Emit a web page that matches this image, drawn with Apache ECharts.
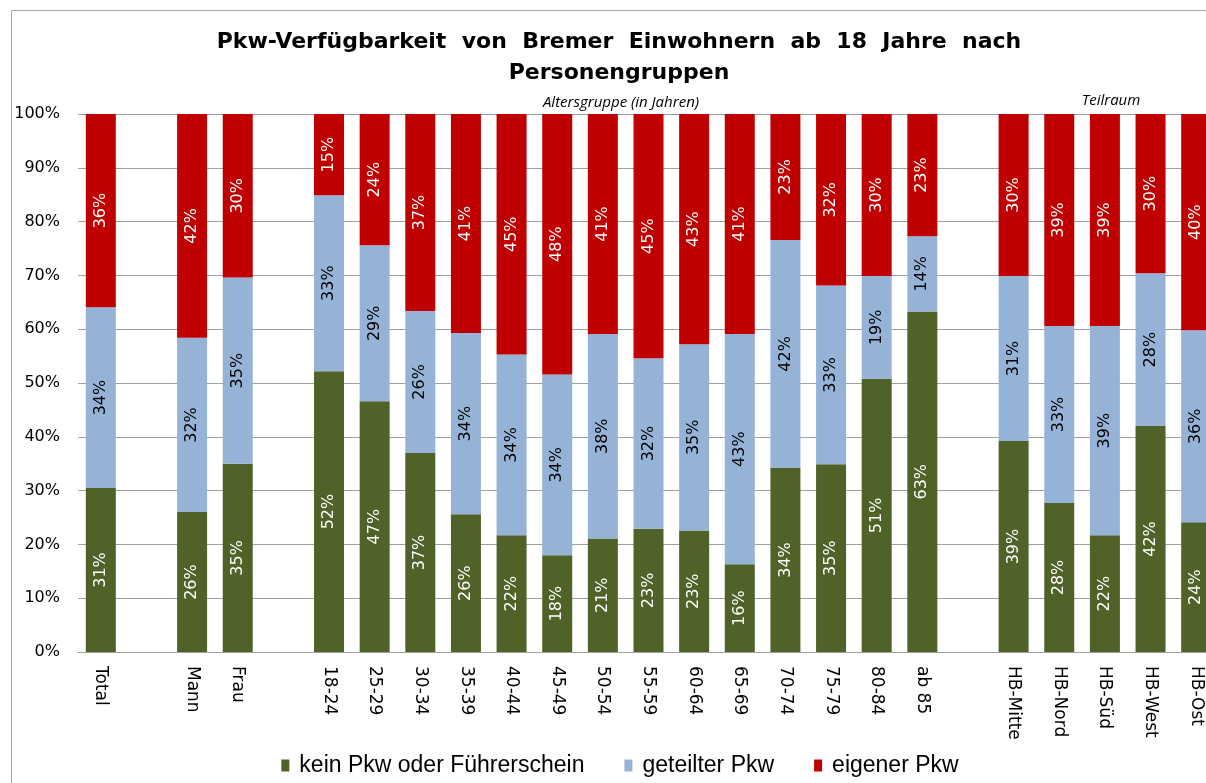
<!DOCTYPE html>
<html>
<head>
<meta charset="utf-8">
<script src="https://cdn.jsdelivr.net/npm/echarts@6/dist/echarts.min.js"></script>
<style>
  html, body { margin: 0; padding: 0; background: #fff; overflow: hidden; }
  #chart { width: 1240px; height: 783px; }
</style>
</head>
<body>
<div id="chart"></div>
<script>
// Kategorien (leere Einträge = Abstand zwischen den Gruppen)
const categories = ['Total', ' ', 'Mann', 'Frau', '  ',
  '18-24', '25-29', '30-34', '35-39', '40-44', '45-49', '50-54', '55-59',
  '60-64', '65-69', '70-74', '75-79', '80-84', 'ab 85', '   ',
  'HB-Mitte', 'HB-Nord', 'HB-Süd', 'HB-West', 'HB-Ost'];

// Anteile in %
const keinPkw = [30.5, null, 26.0, 35.0, null,
  52.2, 46.6, 37.0, 25.6, 21.7, 18.0, 21.1, 22.9, 22.6, 16.3, 34.2, 34.9, 50.8, 63.3, null,
  39.2, 27.7, 21.7, 42.0, 24.1];
const geteilterPkw = [33.6, null, 32.4, 34.6, null,
  32.7, 29.0, 26.4, 33.7, 33.6, 33.6, 38.0, 31.7, 34.6, 42.8, 42.4, 33.2, 19.1, 14.0, null,
  30.7, 32.9, 38.9, 28.4, 35.7];
const eigenerPkw = [35.9, null, 41.6, 30.4, null,
  15.1, 24.4, 36.6, 40.7, 44.7, 48.4, 40.9, 45.4, 42.8, 40.9, 23.4, 31.9, 30.1, 22.7, null,
  30.1, 39.4, 39.4, 29.6, 40.2];

const seriesNames = ['kein Pkw oder Führerschein', 'geteilter Pkw', 'eigener Pkw'];
const colors = ['#4F6228', '#95B3D7', '#C00000'];
const labelColors = ['#ffffff', '#000000', '#ffffff'];

const chart = echarts.init(document.getElementById('chart'));

function makeSeries(name, data, i) {
  return {
    name: name,
    type: 'bar',
    stack: 'total',
    data: data,
    barWidth: 30,
    itemStyle: { color: colors[i] },
    label: {
      show: true,
      position: 'inside',
      rotate: 90,
      color: labelColors[i],
      fontFamily: 'DejaVu Sans',
      fontSize: 16,
      formatter: p => Math.round(p.value) + '%'
    }
  };
}

const option = {
  animation: false,
  color: colors,
  title: {
    text: 'Pkw-Verfügbarkeit  von  Bremer  Einwohnern  ab  18  Jahre  nach\nPersonengruppen',
    left: 614,
    top: 22,
    textAlign: 'center',
    textStyle: {
      fontFamily: 'DejaVu Sans',
      fontWeight: 'bold',
      fontSize: 22,
      lineHeight: 31,
      color: '#000'
    }
  },
  grid: { left: 78, top: 114, width: 1141, height: 538 },
  xAxis: {
    type: 'category',
    data: categories,
    axisLine: { lineStyle: { color: '#A0A0A0', width: 1 } },
    axisTick: { show: false },
    axisLabel: {
      interval: 0,
      rotate: -90,
      margin: 14,
      color: '#000',
      fontFamily: 'DejaVu Sans',
      fontSize: 17
    }
  },
  yAxis: {
    type: 'value',
    min: 0,
    max: 100,
    interval: 10,
    axisLine: { show: false },
    axisTick: { show: false },
    splitLine: { lineStyle: { color: '#A0A0A0', width: 1 } },
    axisLabel: {
      margin: 18,
      color: '#000',
      fontFamily: 'DejaVu Sans',
      fontSize: 16,
      formatter: '{value}%'
    }
  },
  legend: {
    data: seriesNames,
    left: 'center',
    top: 749,
    icon: 'rect',
    itemWidth: 8,
    itemHeight: 12,
    itemGap: 40,
    textStyle: {
      fontFamily: 'Liberation Sans',
      fontSize: 23,
      padding: [0, 0, 0, 5],
      color: '#000'
    }
  },
  graphic: [
    {
      type: 'rect',
      z: -10,
      shape: { x: 11.5, y: 10.5, width: 1400, height: 900 },
      style: { fill: 'none', stroke: '#A6A6A6', lineWidth: 1 }
    },
    {
      type: 'text',
      style: {
        text: 'Altersgruppe (in Jahren)',
        x: 621, y: 103,
        align: 'center', verticalAlign: 'middle',
        font: 'italic 15px "Open Sans"',
        fill: '#000'
      }
    },
    {
      type: 'text',
      style: {
        text: 'Teilraum',
        x: 1111, y: 101,
        align: 'center', verticalAlign: 'middle',
        font: 'italic 15px "Open Sans"',
        fill: '#000'
      }
    }
  ],
  series: [
    makeSeries(seriesNames[0], keinPkw, 0),
    makeSeries(seriesNames[1], geteilterPkw, 1),
    makeSeries(seriesNames[2], eigenerPkw, 2)
  ]
};

chart.setOption(option);
</script>
</body>
</html>
